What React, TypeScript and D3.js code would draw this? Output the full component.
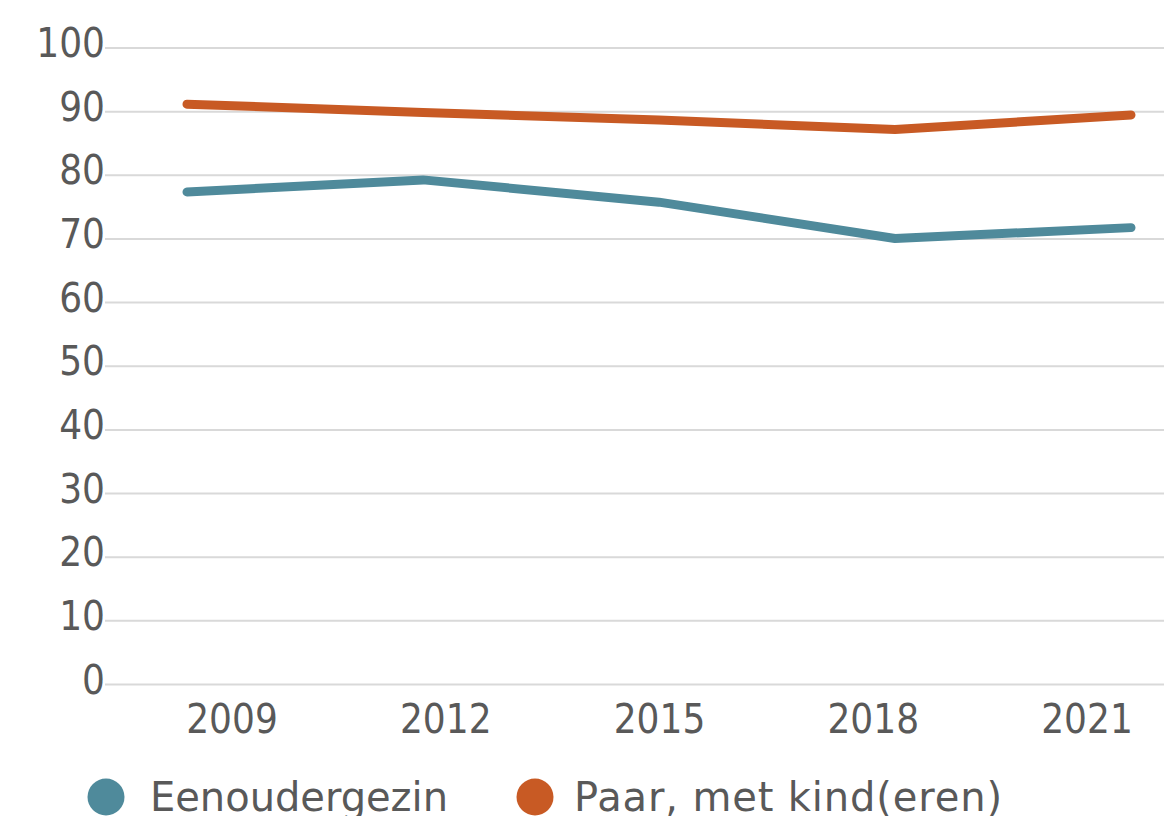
import React, { useRef, useEffect } from "react"
import * as d3 from "d3"

const years = ["2009", "2012", "2015", "2018", "2021"]
const eenoudergezin = [77.3, 79.2, 75.7, 70.0, 71.7]
const paarMetKind = [91.1, 89.8, 88.6, 87.1, 89.4]
const yTicks = [0, 10, 20, 30, 40, 50, 60, 70, 80, 90, 100]

const seriesNames = ["Eenoudergezin", "Paar, met kind(eren)"]
const colors = ["#4f8a9b", "#c85a24"]

const App = () => {
  const element = useRef<SVGSVGElement>(null)

  useEffect(() => {
    const width = 1164
    const svg = d3.select(element.current)
    svg.selectAll("*").remove()

    const font = "'DejaVu Sans Condensed', 'DejaVu Sans', sans-serif"
    const legendFont = "'DejaVu Sans', Verdana, sans-serif"
    const textColor = "#595959"

    const y = d3.scaleLinear().domain([0, 100]).range([684, 47.5])
    const x = d3.scalePoint().domain(years).range([187, 1131])
    const xLabel = d3.scalePoint().domain(years).range([232, 1087])

    // gridlines + y labels
    const yAxis = svg.append("g")
      .attr("transform", "translate(105,0)")
      .call(d3.axisLeft(y).tickValues(yTicks).tickSize(-(width - 105)).tickPadding(0))
    yAxis.select(".domain").remove()
    yAxis.selectAll(".tick line")
      .attr("stroke", "#d9d9d9")
      .attr("stroke-width", 2)
    yAxis.selectAll(".tick text")
      .attr("x", 0)
      .attr("dy", 9)
      .attr("fill", textColor)
      .style("font-family", font)
      .style("font-size", "40px")

    // x labels
    svg.append("g")
      .selectAll("text")
      .data(years)
      .enter()
      .append("text")
        .attr("x", d => xLabel(d) as number)
        .attr("y", 733)
        .attr("text-anchor", "middle")
        .attr("fill", textColor)
        .style("font-family", font)
        .style("font-size", "40px")
        .text(d => d)

    const line = d3.line<number>()
      .x((_, i) => x(years[i]) as number)
      .y(d => y(d))

    const data = [eenoudergezin, paarMetKind]
    svg.append("g")
      .selectAll("path")
      .data(data)
      .enter()
      .append("path")
        .attr("d", d => line(d))
        .attr("fill", "none")
        .attr("stroke", (_, i) => colors[i])
        .attr("stroke-width", 9)
        .attr("stroke-linecap", "round")
        .attr("stroke-linejoin", "round")

    // legend
    const legendX = [106, 535]
    const legendW = [298, 428]
    const legend = svg.append("g")
      .selectAll("g")
      .data(seriesNames)
      .enter()
      .append("g")
        .attr("transform", (_, i) => "translate(" + legendX[i] + ",797)")
    legend.append("circle")
      .attr("r", 18.5)
      .attr("fill", (_, i) => colors[i])
    legend.append("text")
      .attr("x", (_, i) => i === 0 ? 44 : 39)
      .attr("y", 14)
      .attr("fill", textColor)
      .attr("textLength", (_, i) => legendW[i])
      .attr("lengthAdjust", "spacing")
      .style("font-family", legendFont)
      .style("font-size", "40px")
      .text(d => d)
  }, [])

  return (
    <svg
      ref={element}
      width={1164}
      height={816}
      style={{ position: "absolute", left: 0, top: 0, background: "#fff" }}
    />
  )
}

export default App
